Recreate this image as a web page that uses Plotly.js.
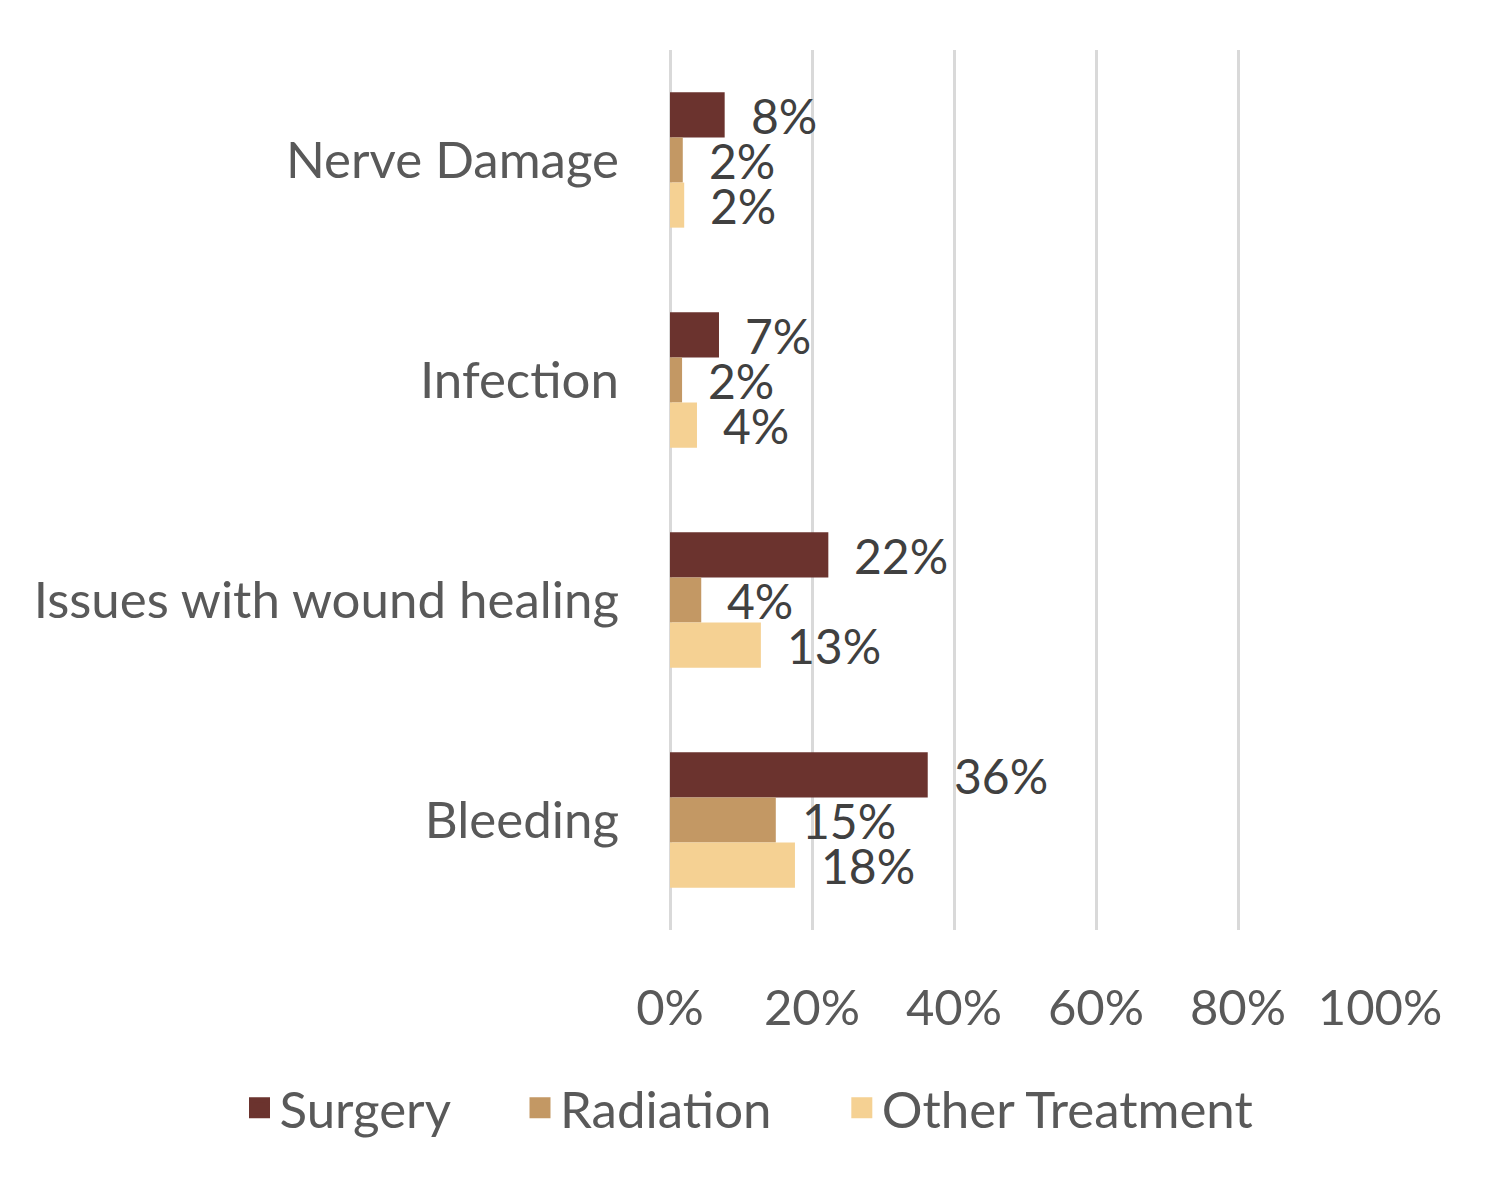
<!DOCTYPE html>
<html>
<head>
<meta charset="utf-8">
<script src="https://cdn.plot.ly/plotly-3.0.1.min.js"></script>
<style>
  body { margin: 0; background: #fff; }
  #chart { width: 1498px; height: 1191px; }
</style>
</head>
<body>
<div id="chart"></div>
<script>
// categories, top to bottom
var categories = ['Nerve Damage', 'Infection', 'Issues with wound healing', 'Bleeding'];

// shares (fraction of patients)
var surgery   = [0.077, 0.069, 0.223, 0.363];
var radiation = [0.018, 0.017, 0.044, 0.149];
var other     = [0.020, 0.038, 0.128, 0.176];

var seriesNames = ['Surgery', 'Radiation', 'Other Treatment'];
var seriesColors = ['#6B332E', '#C39864', '#F5D193'];
var seriesValues = [surgery, radiation, other];

var tickVals = [0, 0.2, 0.4, 0.6, 0.8, 1.0];
var tickText = ['0%', '20%', '40%', '60%', '80%', '100%'];

var fontFamily = 'Lato, "Open Sans", sans-serif';
var legendPad = '\u00a0\u00a0\u00a0\u00a0\u00a0';

var data = [];
var annotations = [];

seriesValues.forEach(function (vals, i) {
  data.push({
    type: 'bar',
    orientation: 'h',
    name: seriesNames[i],
    x: vals,
    y: categories,
    marker: { color: seriesColors[i] },
    showlegend: false,
    hoverinfo: 'x+y'
  });
  // legend proxy with a larger square swatch
  data.push({
    type: 'scatter',
    mode: 'markers',
    name: seriesNames[i] + (i < seriesNames.length - 1 ? legendPad : ''),
    x: [null],
    y: [null],
    marker: { symbol: 'square', size: 16, color: seriesColors[i],
              line: { color: seriesColors[i], width: 5 } },
    showlegend: true
  });
  vals.forEach(function (v, j) {
    annotations.push({
      x: v,
      y: categories[j],
      xref: 'x',
      yref: 'y',
      text: Math.round(v * 100) + '%',
      showarrow: false,
      xanchor: 'left',
      yanchor: 'middle',
      xshift: 24,
      yshift: (1 - i) * 45,
      font: { family: fontFamily, size: 48, color: '#404040' }
    });
  });
});

var layout = {
  width: 1498,
  height: 1191,
  margin: { l: 20, r: 20, t: 50, b: 261, autoexpand: false },
  paper_bgcolor: '#fff',
  plot_bgcolor: '#fff',
  barmode: 'group',
  bargap: 0.385,
  bargroupgap: 0,
  font: { family: fontFamily, color: '#595959' },
  xaxis: {
    domain: [650 / 1458, 1360 / 1458],
    range: [0, 1],
    tickvals: tickVals,
    ticktext: tickText,
    showgrid: true,
    gridcolor: '#D9D9D9',
    gridwidth: 3,
    zeroline: true,
    zerolinecolor: '#D9D9D9',
    zerolinewidth: 3,
    showline: false,
    ticks: '',
    ticklabelstandoff: 45,
    tickfont: { family: fontFamily, size: 49, color: '#595959' },
    fixedrange: true
  },
  yaxis: {
    type: 'category',
    categoryorder: 'array',
    categoryarray: categories,
    autorange: 'reversed',
    showgrid: false,
    zeroline: false,
    showline: false,
    ticks: '',
    ticklabelstandoff: 50,
    tickfont: { family: fontFamily, size: 51, color: '#595959' },
    fixedrange: true
  },
  showlegend: true,
  legend: {
    orientation: 'h',
    x: 0.5,
    xanchor: 'center',
    y: (930 - 1108) / 880,
    yanchor: 'middle',
    font: { family: fontFamily, size: 51, color: '#595959' },
    itemwidth: 30,
    tracegroupgap: 0
  },
  annotations: annotations
};

Plotly.newPlot('chart', data, layout, { displayModeBar: false, staticPlot: true });
</script>
</body>
</html>
